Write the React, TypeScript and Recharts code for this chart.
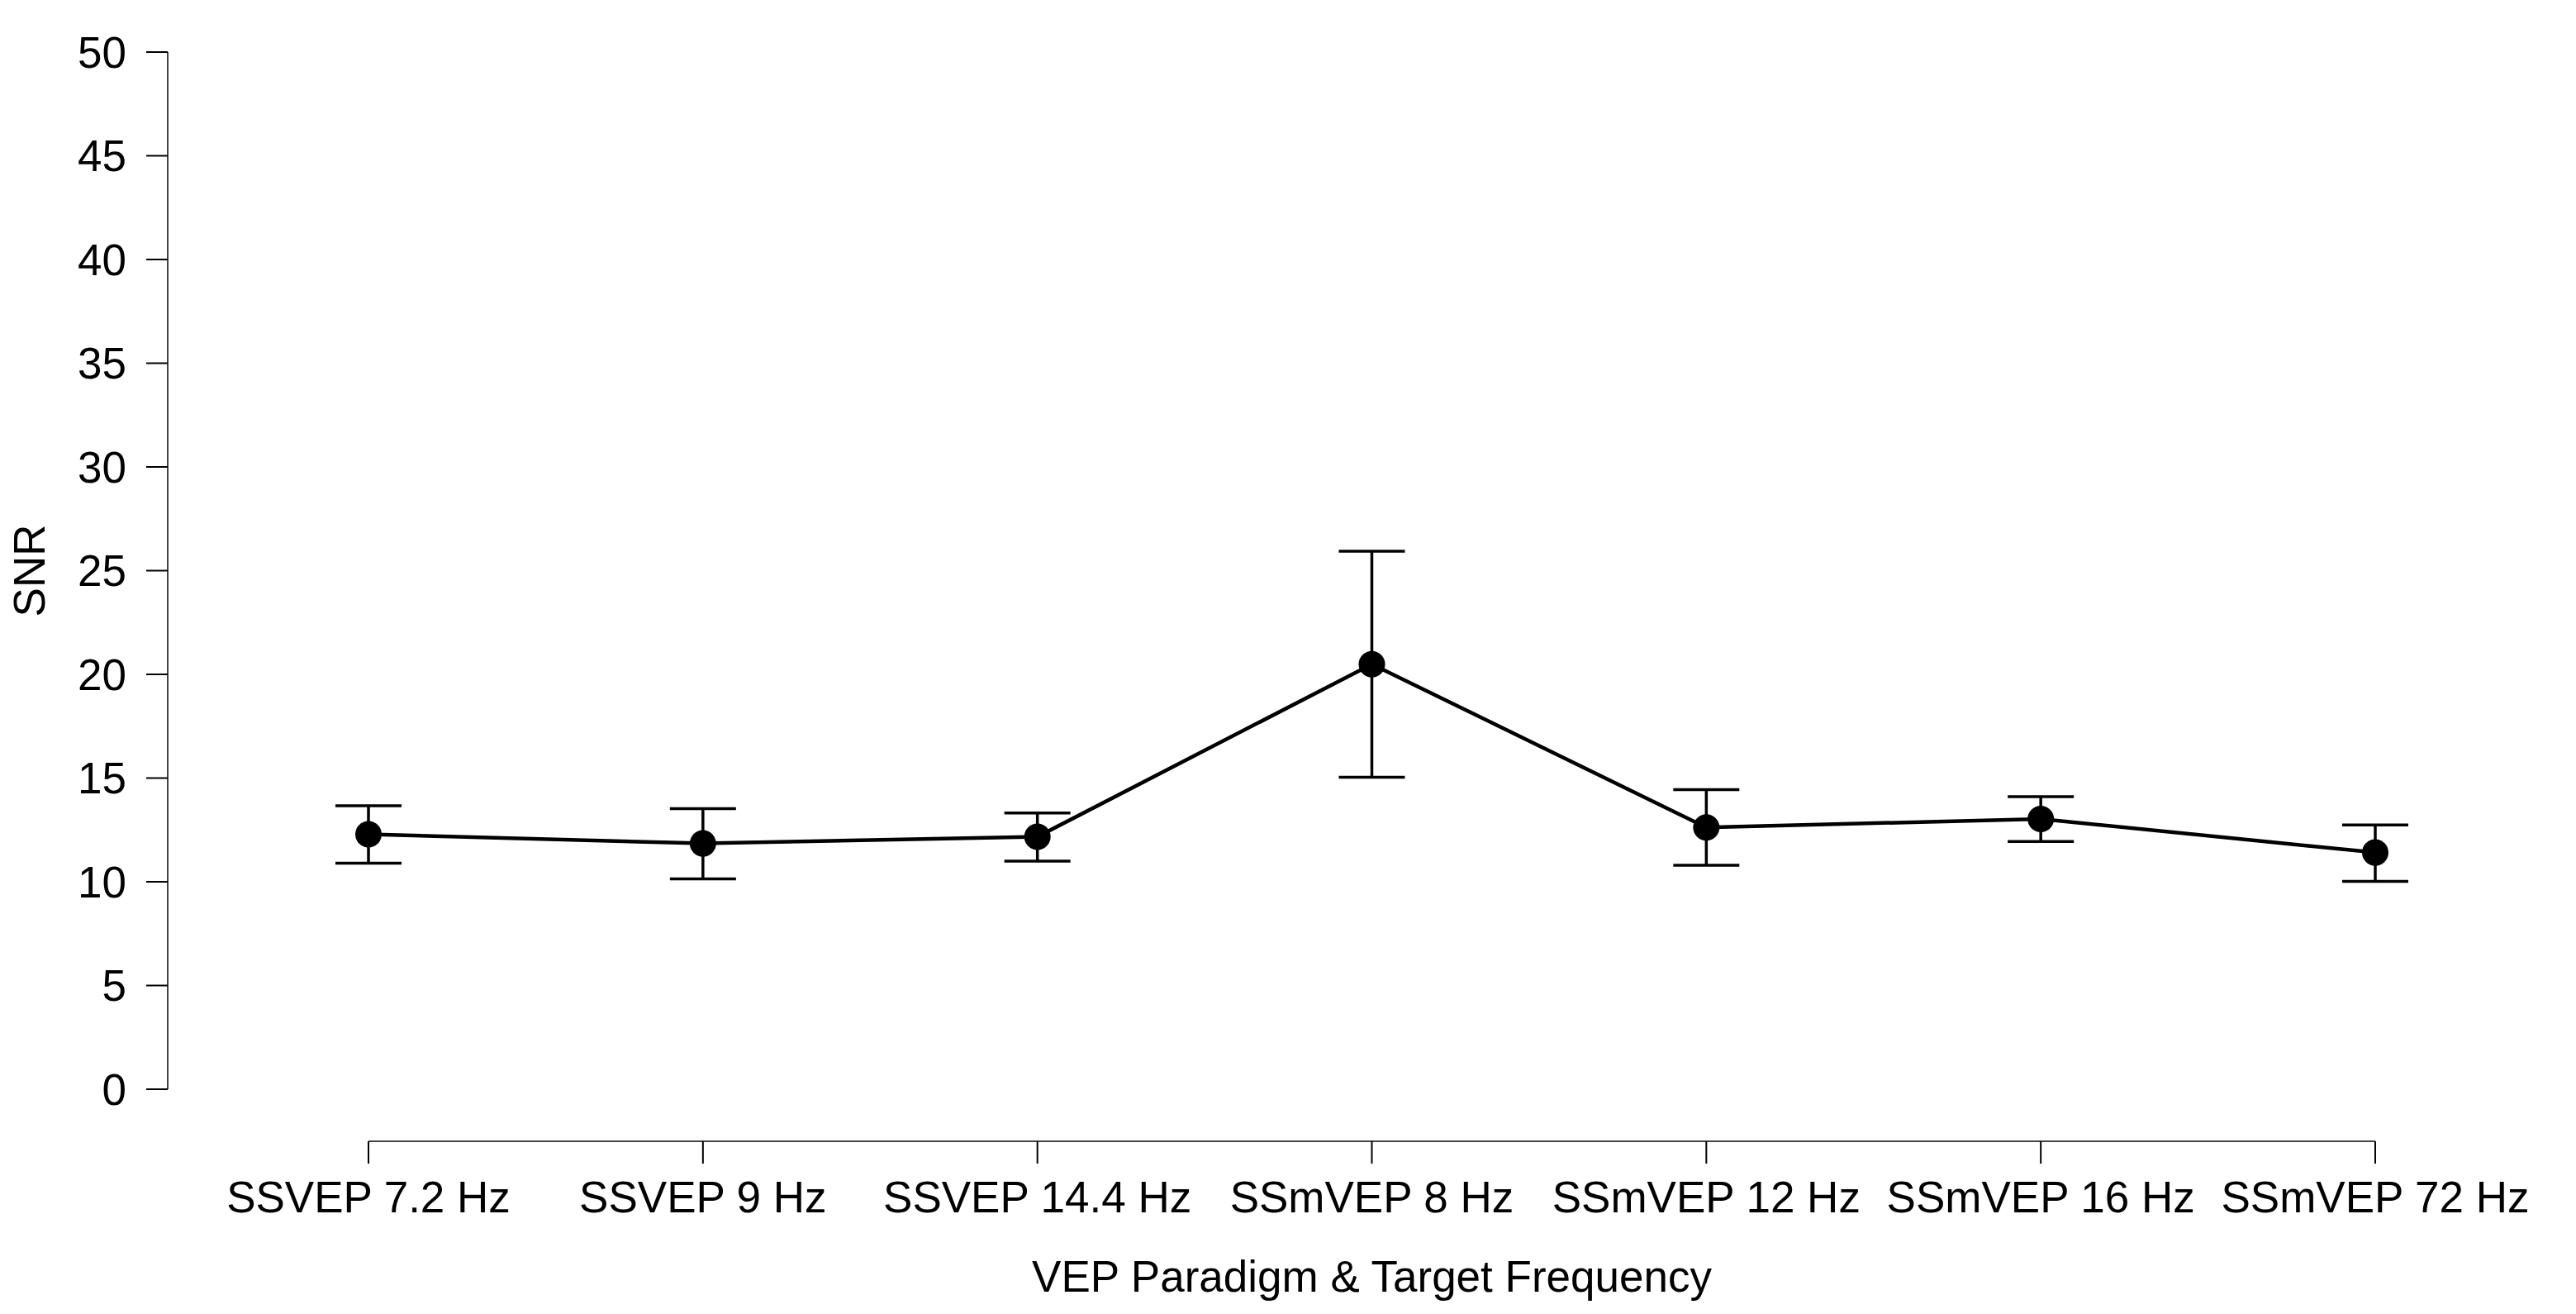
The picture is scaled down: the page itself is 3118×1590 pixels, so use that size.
import React from "react";
import {
  LineChart,
  Line,
  XAxis,
  YAxis,
  ErrorBar,
  ReferenceLine,
  Label,
} from "recharts";

// =========================
// DATA
// =========================
const categories = [
  "SSVEP 7.2 Hz",
  "SSVEP 9 Hz",
  "SSVEP 14.4 Hz",
  "SSmVEP 8 Hz",
  "SSmVEP 12 Hz",
  "SSmVEP 16 Hz",
  "SSmVEP 72 Hz",
];
const snrMean = [12.29, 11.85, 12.17, 20.49, 12.62, 13.03, 11.41];
const snrUpper = [13.67, 13.53, 13.32, 25.94, 14.44, 14.1, 12.74];
const snrLower = [10.9, 10.14, 11.0, 15.04, 10.8, 11.94, 10.02];
const snrTicks = [0, 5, 10, 15, 20, 25, 30, 35, 40, 45, 50];

const data = categories.map((name, i) => ({
  name,
  snr: snrMean[i],
  err: [snrMean[i] - snrLower[i], snrUpper[i] - snrMean[i]],
}));

// =========================
// LAYOUT
// =========================
const W = 3118;
const H = 1590;
const FONT = "'Liberation Sans', Arial, Helvetica, sans-serif";
const FS = 53;
// the R-style x axis sits below the plot region (in data units)
const X_AXIS_LEVEL = -2.51;
const X_AXIS_GAP = 63;

const XTick = (props: any) => {
  const { x, y, payload } = props;
  return (
    <g>
      <line
        x1={x}
        x2={x}
        y1={y + X_AXIS_GAP}
        y2={y + X_AXIS_GAP + 27}
        stroke="#000"
        strokeWidth={2}
      />
      <text
        x={x}
        y={y + 149}
        textAnchor="middle"
        fontSize={FS}
        fontFamily={FONT}
        fill="#000"
      >
        {payload.value}
      </text>
    </g>
  );
};

export default function App() {
  return (
    <div style={{ position: "absolute", left: 0, top: 0, background: "#fff" }}>
      <LineChart
        width={W}
        height={H}
        data={data}
        margin={{ top: 63, right: 0, bottom: 0, left: 0 }}
        style={{ fontFamily: FONT }}
      >
        <XAxis
          dataKey="name"
          type="category"
          scale="point"
          padding={{ left: 243, right: 243 }}
          height={272}
          axisLine={false}
          tickLine={false}
          tickSize={0}
          tickMargin={0}
          interval={0}
          tick={<XTick />}
        >
          <Label
            value="VEP Paradigm & Target Frequency"
            position="insideBottom"
            offset={27}
            style={{ fontSize: FS, fill: "#000", fontFamily: FONT }}
          />
        </XAxis>
        <YAxis
          type="number"
          domain={[0, 50]}
          ticks={snrTicks}
          interval={0}
          width={203}
          tickSize={26}
          tickMargin={24}
          axisLine={{ stroke: "#444", strokeWidth: 2 }}
          tickLine={{ stroke: "#000", strokeWidth: 2 }}
          tick={{ fontSize: FS, fill: "#000", fontFamily: FONT }}
          allowDataOverflow
        >
          <Label
            value="SNR"
            angle={-90}
            position="insideLeft"
            offset={35}
            style={{
              fontSize: FS,
              fill: "#000",
              fontFamily: FONT,
              textAnchor: "middle",
            }}
          />
        </YAxis>
        <ReferenceLine
          segment={[
            { x: categories[0], y: X_AXIS_LEVEL },
            { x: categories[categories.length - 1], y: X_AXIS_LEVEL },
          ]}
          stroke="#444"
          strokeWidth={2}
          ifOverflow="visible"
        />
        <Line
          type="linear"
          dataKey="snr"
          stroke="#000"
          strokeWidth={4.5}
          dot={{ r: 16, fill: "#000", stroke: "none" }}
          activeDot={false}
          isAnimationActive={false}
        >
          <ErrorBar
            dataKey="err"
            direction="y"
            width={40}
            stroke="#000"
            strokeWidth={3.5}
            isAnimationActive={false}
          />
        </Line>
      </LineChart>
    </div>
  );
}
